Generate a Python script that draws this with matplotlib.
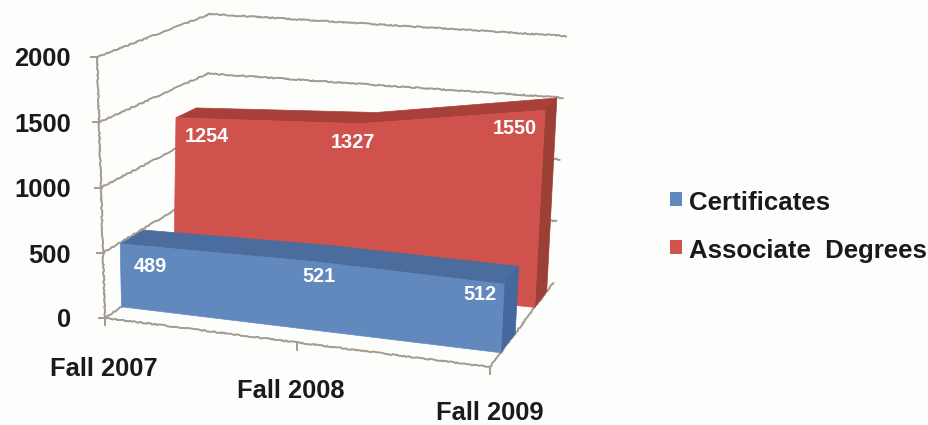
import matplotlib.pyplot as plt
import numpy as np
from matplotlib.patches import Polygon, Rectangle

plt.rcParams["font.family"] = ["Liberation Sans", "DejaVu Sans"]

CATEGORIES = ["Fall 2007", "Fall 2008", "Fall 2009"]
CERTIFICATES = [489, 521, 512]
ASSOCIATE = [1254, 1327, 1550]
Y_TICKS = [0, 500, 1000, 1500, 2000]
Y_MAX = 2000

BG = "#FDFDFB"
GRID = "#A39A90"
INK = "#1A1A1A"

# pixel corners of the 3d box, (x position, top?, depth)
CORNERS = {
    (0, 0, 0): (105, 318),
    (0, 1, 0): (97, 57),
    (1, 0, 0): (490, 367),
    (1, 1, 0): (504, 95),
    (0, 0, 1): (202, 252),
    (0, 1, 1): (210, 14),
    (1, 0, 1): (553, 283),
    (1, 1, 1): (566, 36),
}


def project(xf, value, depth):
    vf = value / Y_MAX
    px = np.zeros(2)
    for (i, j, k), corner in CORNERS.items():
        w = (xf if i else 1 - xf) * (vf if j else 1 - vf) * (depth if k else 1 - depth)
        px += w * np.array(corner)
    return px


def draw_line(ax, points):
    pts = np.array(points)
    line, = ax.plot(pts[:, 0], pts[:, 1], color=GRID, lw=1.4, zorder=1)
    line.set_sketch_params(scale=0.5, length=9, randomness=20)


def draw_area(ax, values, d_front, d_back, front, top, side, zorder):
    xfs = np.linspace(0, 1, len(values))
    front_top = [project(x, v, d_front) for x, v in zip(xfs, values)]
    back_top = [project(x, v, d_back) for x, v in zip(xfs, values)]
    front_face = front_top + [project(1, 0, d_front), project(0, 0, d_front)]
    top_face = front_top + back_top[::-1]
    side_face = [front_top[-1], back_top[-1], project(1, 0, d_back), project(1, 0, d_front)]
    ax.add_patch(Polygon(top_face, facecolor=top, edgecolor=top, lw=0.5, zorder=zorder))
    ax.add_patch(Polygon(side_face, facecolor=side, edgecolor=side, lw=0.5, zorder=zorder))
    ax.add_patch(Polygon(front_face, facecolor=front, edgecolor=front, lw=0.5, zorder=zorder + 0.5))


def main():
    fig = plt.figure(figsize=(9.29, 4.25), dpi=100, facecolor=BG)
    ax = fig.add_axes([0, 0, 1, 1])
    ax.set_xlim(0, 929)
    ax.set_ylim(425, 0)
    ax.axis("off")

    # walls
    for v in Y_TICKS[1:]:
        draw_line(ax, [project(0, v, 0), project(0, v, 1), project(1, v, 1)])
    draw_line(ax, [project(0, 0, 0), project(0, Y_MAX, 0)])
    draw_line(ax, [project(0, 0, 0), project(0, 0, 1)])
    draw_line(ax, [project(0, 0, 0), project(1, 0, 0), project(1, 0, 1)])

    # ticks
    for v in Y_TICKS:
        p = project(0, v, 0)
        ax.plot([p[0] - 6, p[0] + 1], [p[1], p[1]], color=GRID, lw=1.4, zorder=1)
    for xf in np.linspace(0, 1, len(CATEGORIES)):
        p = project(xf, 0, 0)
        ax.plot([p[0], p[0]], [p[1], p[1] + 7], color=GRID, lw=1.4, zorder=1)

    draw_area(ax, ASSOCIATE, 0.71, 0.90, "#D0524C", "#A93F39", "#9C3F35", 2)
    draw_area(ax, CERTIFICATES, 0.17, 0.40, "#6289BE", "#4A6D9E", "#44699F", 4)

    # labels
    for v, y in zip(Y_TICKS, [320, 256, 190, 125, 59]):
        ax.text(71, y, str(v), ha="right", va="center", fontsize=18.4, fontweight="bold", color=INK, zorder=6)
    for name, x, y in zip(CATEGORIES, [104, 291, 490], [369, 391, 413]):
        ax.text(x, y, name, ha="center", va="center", fontsize=18.4, fontweight="bold", color=INK, zorder=6)

    for v, x, y in zip(ASSOCIATE, [207, 353, 515], [137, 142, 129]):
        ax.text(x, y, str(v), ha="center", va="center", fontsize=14.3, fontweight="bold", color="white", zorder=6)
    for v, x, y in zip(CERTIFICATES, [150, 319, 480], [266, 276, 295]):
        ax.text(x, y, str(v), ha="center", va="center", fontsize=14.3, fontweight="bold", color="white", zorder=6)

    # legend
    ax.add_patch(Rectangle((670, 192), 12, 14, facecolor="#6289BE", edgecolor="none", zorder=6))
    ax.add_patch(Rectangle((670, 240), 12, 14, facecolor="#D0524C", edgecolor="none", zorder=6))
    ax.text(689, 203, "Certificates", ha="left", va="center", fontsize=18.6, fontweight="bold", color=INK)
    ax.text(689, 251, "Associate  Degrees", ha="left", va="center", fontsize=18.5, fontweight="bold", color=INK)

    fig.savefig("out.png", dpi=100, facecolor=BG)
    plt.close(fig)


if __name__ == "__main__":
    main()
